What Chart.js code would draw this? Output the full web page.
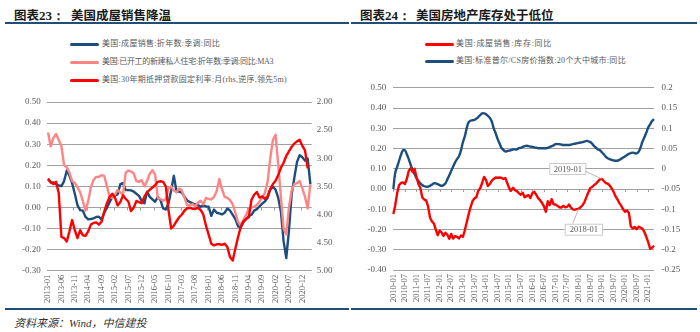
<!DOCTYPE html>
<html>
<head>
<meta charset="utf-8">
<script src="https://cdn.jsdelivr.net/npm/chart.js@4/dist/chart.umd.min.js"></script>
<style>
  html, body { margin: 0; padding: 0; background: #fff; }
  body { width: 700px; height: 332px; position: relative; overflow: hidden;
         font-family: "Liberation Serif", "Noto Sans CJK SC", serif; }
  .abs { position: absolute; white-space: pre; }
  .ttl { font-family: "Noto Sans CJK SC", sans-serif; font-weight: bold; font-size: 12.5px; color: #1a1a1a; top: 5px; }
  .ttlnum { font-family: "Liberation Serif", serif; font-weight: bold; font-size: 13px; }
  .rule { position: absolute; height: 2px; background: #1f4e79; }
  .leg { position: absolute; font-size: 8px; color: #595959; line-height: 10px;
         font-family: "Liberation Serif", "Noto Sans CJK SC", serif; }
  .sw { position: absolute; height: 3px; width: 29px; border-radius: 1.5px; }
  .box { position: absolute; }
  .src { position: absolute; left: 14px; top: 314px; font-size: 11px; font-style: italic; color: #333;
         font-family: "Liberation Serif", "Noto Sans CJK SC", serif; }
</style>
</head>
<body>

<div class="abs ttl" style="left:14px">图表<span class="ttlnum">23：</span></div>
<div class="abs ttl" style="left:71px">美国成屋销售降温</div>
<div class="abs ttl" style="left:360px">图表<span class="ttlnum">24：</span></div>
<div class="abs ttl" style="left:416px">美国房地产库存处于低位</div>
<div class="rule" style="left:5px; top:22px; width:344px"></div>
<div class="rule" style="left:351px; top:22px; width:346px"></div>
<div class="rule" style="left:5px; top:308px; width:344px; height:1.5px"></div>
<div class="rule" style="left:351px; top:308px; width:346px; height:1.5px"></div>
<div class="src">资料来源：Wind，中信建投</div>

<div id="legL"></div>
<div id="legR"></div>

<div class="box" style="left:0px; top:90px; width:350px; height:220px"><canvas id="c1"></canvas></div>
<div class="box" style="left:350px; top:75px; width:350px; height:235px"><canvas id="c2"></canvas></div>

<script>
// ---------- 图表23 data: monthly, 2013-01 .. 2021-03 ----------
const salesYoY = [
  0.133, 0.120, 0.118, 0.110, 0.104, 0.101, 0.125, 0.175, 0.150, 0.115,
  0.065, 0.010, -0.013, -0.015, -0.045, -0.056, -0.055, -0.052, -0.045, -0.044,
  -0.058, -0.025, -0.002, 0.025, 0.050, 0.055, 0.063, 0.110, 0.115, 0.083,
  0.082, 0.081, 0.075, 0.065, 0.055, 0.030, 0.020, 0.075, 0.050, 0.038,
  0.027, 0.050, 0.035, -0.005, -0.010, 0.020, 0.080, 0.150, 0.075, 0.075,
  0.070, 0.050, 0.033, 0.025, 0.019, 0.015, 0.011, 0.003, 0.010, 0.005,
  0.003, -0.040, -0.010, -0.025, -0.028, -0.033, -0.025, -0.005, -0.015, -0.035,
  -0.055, -0.090, -0.095, -0.070, -0.055, -0.042, -0.035, -0.015, -0.008, 0.005,
  0.018, 0.028, 0.045, 0.085, 0.097, 0.085, 0.045, -0.020, -0.160, -0.240,
  -0.110, 0.060, 0.140, 0.215, 0.248, 0.238, 0.222, 0.232, 0.110
];
const startsYoYMA3 = [
  0.355, 0.290, 0.330, 0.348, 0.320, 0.290, 0.200, 0.190, 0.165, 0.125,
  0.116, 0.095, 0.072, 0.030, -0.015, 0.030, 0.095, 0.130, 0.145, 0.145,
  0.153, 0.150, 0.100, 0.050, 0.045, 0.060, 0.083, 0.070, 0.060, 0.165,
  0.175, 0.170, 0.162, 0.125, 0.122, 0.130, 0.100, 0.125, 0.160, 0.177,
  0.155, 0.045, 0.040, 0.032, 0.040, 0.090, 0.100, 0.080, 0.072, 0.090,
  0.080, 0.045, 0.010, 0.012, 0.015, 0.005, 0.022, 0.032, 0.015, 0.045,
  0.040, 0.038, 0.050, 0.078, 0.135, 0.085, 0.050, 0.045, 0.035, 0.015,
  -0.025, -0.070, -0.082, -0.060, -0.035, -0.008, 0.000, 0.003, 0.012, 0.028,
  0.048, 0.068, 0.120, 0.230, 0.320, 0.345, 0.200, 0.050, -0.100, -0.128,
  0.000, 0.080, 0.110, 0.115, 0.125, 0.090, 0.050, -0.005, 0.110
];
// 30-year fixed mortgage rate, shifted 5 months ahead (right axis, reversed)
const mortgageRate = [
  3.36, 3.43, 3.46, 3.42, 3.62, 4.40, 4.42, 4.48, 4.30, 4.10,
  4.28, 4.42, 4.28, 4.37, 4.38, 4.30, 4.18, 4.15, 4.14, 4.18,
  4.13, 3.95, 3.80, 3.69, 3.63, 3.70, 3.84, 3.78, 3.66, 3.72,
  3.77, 3.94, 3.88, 3.76, 3.78, 3.80, 3.68, 3.61, 3.56, 3.52,
  3.48, 3.42, 3.41, 3.42, 3.50, 3.92, 4.25, 4.20, 4.12, 4.05,
  4.00, 3.93, 3.89, 3.88, 3.90, 3.90, 3.88, 3.92, 4.00, 4.20,
  4.36, 4.52, 4.55, 4.53, 4.53, 4.54, 4.52, 4.58, 4.76, 4.82,
  4.60, 4.40, 4.22, 4.12, 4.08, 4.05, 3.74, 3.65, 3.60, 3.70,
  3.68, 3.72, 3.68, 3.55, 3.46, 3.40, 3.30, 3.17, 3.08, 2.96,
  2.88, 2.80, 2.74, 2.70, 2.67, 2.78, 2.86, 3.18
];

// ---------- 图表24 data: monthly, 2010-01 .. 2021-04 ----------
const inventoryYoY = [
  -0.123, -0.080, -0.020, 0.020, 0.030, 0.033, 0.025, 0.050, 0.090, 0.103,
  0.085, 0.100, 0.060, 0.025, 0.005, -0.040, -0.052, -0.056, -0.085, -0.140,
  -0.160, -0.170, -0.200, -0.228, -0.206, -0.214, -0.232, -0.216, -0.226, -0.246,
  -0.222, -0.245, -0.232, -0.236, -0.244, -0.230, -0.236, -0.205, -0.165, -0.125,
  -0.090, -0.060, -0.046, -0.040, -0.008, 0.004, 0.030, 0.060, 0.045, 0.015,
  0.025, 0.042, 0.050, 0.057, 0.056, 0.057, 0.056, 0.050, 0.055, 0.030,
  0.005, -0.008, 0.006, -0.005, -0.010, -0.020, -0.028, -0.018, -0.040, -0.035,
  -0.030, -0.044, -0.020, -0.013, -0.028, -0.045, -0.055, -0.068, -0.085, -0.112,
  -0.060, -0.080, -0.050, -0.075, -0.076, -0.083, -0.090, -0.092, -0.083, -0.090,
  -0.088, -0.076, -0.092, -0.100, -0.102, -0.099, -0.097, -0.090, -0.080, -0.064,
  -0.040, -0.016, 0.005, 0.010, 0.020, 0.027, 0.038, 0.048, 0.050, 0.040,
  0.030, 0.027, 0.018, 0.005, -0.012, -0.035, -0.050, -0.068, -0.082, -0.100,
  -0.112, -0.106, -0.118, -0.185, -0.195, -0.187, -0.198, -0.186, -0.190, -0.196,
  -0.212, -0.236, -0.262, -0.295, -0.290, -0.280
];
const caseShiller20YoY = [
  -0.050, -0.010, 0.005, 0.020, 0.035, 0.046, 0.046, 0.036, 0.024, 0.010,
  -0.003, -0.013, -0.023, -0.030, -0.036, -0.040, -0.043, -0.044, -0.044, -0.042,
  -0.039, -0.036, -0.036, -0.038, -0.040, -0.042, -0.040, -0.036, -0.026, -0.016,
  -0.005, 0.006, 0.016, 0.024, 0.031, 0.045, 0.065, 0.080, 0.100, 0.115,
  0.119, 0.120, 0.121, 0.124, 0.128, 0.133, 0.137, 0.137, 0.135, 0.131,
  0.126, 0.117, 0.100, 0.088, 0.074, 0.063, 0.052, 0.047, 0.043, 0.044,
  0.045, 0.046, 0.048, 0.048, 0.048, 0.051, 0.052, 0.054, 0.056, 0.057,
  0.056, 0.055, 0.054, 0.053, 0.052, 0.051, 0.051, 0.051, 0.051, 0.051,
  0.052, 0.054, 0.056, 0.058, 0.061, 0.061, 0.061, 0.060, 0.059, 0.059,
  0.059, 0.059, 0.060, 0.061, 0.062, 0.063, 0.064, 0.065, 0.066, 0.067,
  0.069, 0.068, 0.066, 0.062, 0.056, 0.052, 0.048, 0.046, 0.041, 0.036,
  0.030, 0.026, 0.024, 0.022, 0.021, 0.020, 0.020, 0.022, 0.025, 0.028,
  0.031, 0.034, 0.037, 0.039, 0.040, 0.039, 0.038, 0.042, 0.052, 0.067,
  0.078, 0.089, 0.102, 0.110, 0.118, 0.123
];

// month category labels
function monthLabels(year, month, count) {
  const out = [];
  for (let i = 0; i < count; i++) {
    const m = (month - 1 + i) % 12 + 1;
    const y = year + Math.floor((month - 1 + i) / 12);
    out.push(y + '-' + String(m).padStart(2, '0'));
  }
  return out;
}
const monthsL = monthLabels(2013, 1, 99);
const monthsR = monthLabels(2010, 1, 136);
const labelStepL = 5;
const labelStepR = 6;
const annotatedMonths = ['2019-01', '2018-01'];

const BLUE = '#1b4e7e';
const PINK = '#ff8585';
const RED = '#ff0000';
const GRID = '#a0a0a0';
const TXT = '#595959';
const FONT = { family: '"Liberation Serif", "Times New Roman", serif', size: 9 };
const XFONT = { family: '"Liberation Serif", "Times New Roman", serif', size: 8.5 };

// small tick marks along the zero line
const zeroTicks = {
  id: 'zeroTicks',
  beforeDatasetsDraw(chart, args, opts) {
    if (!opts || !opts.every) return;
    const xs = chart.scales.x, ys = chart.scales[opts.axis || 'y'];
    const y0 = ys.getPixelForValue(0);
    const n = chart.data.labels.length;
    const ctx = chart.ctx;
    ctx.save();
    ctx.strokeStyle = GRID;
    ctx.lineWidth = 1;
    ctx.beginPath();
    for (let i = 0; i < n; i += opts.every) {
      let x = xs.getPixelForValue(i);
      if (opts.between) x -= (xs.getPixelForValue(1) - xs.getPixelForValue(0)) / 2;
      x = Math.round(x) + 0.5;
      ctx.moveTo(x, y0);
      ctx.lineTo(x, y0 + 3);
    }
    ctx.stroke();
    ctx.restore();
  }
};

// callout boxes pointing at chosen points of a dataset
const callouts = {
  id: 'callouts',
  afterDatasetsDraw(chart, args, opts) {
    if (!opts || !opts.items) return;
    const ctx = chart.ctx;
    const meta = chart.getDatasetMeta(opts.dataset);
    ctx.save();
    ctx.font = '8.5px "Liberation Serif", serif';
    opts.items.forEach(it => {
      const idx = chart.data.labels.indexOf(it.month);
      const pt = meta.data[idx];
      if (!pt) return;
      const px = pt.x, py = pt.y;
      const bx = px + it.dx, by = py + it.dy, bw = it.w, bh = 11;
      ctx.strokeStyle = '#a6a6a6';
      ctx.lineWidth = 0.8;
      ctx.beginPath();
      ctx.moveTo(px + it.ax, py + it.ay);
      ctx.lineTo(px, py);
      ctx.stroke();
      ctx.fillStyle = '#fff';
      ctx.fillRect(bx, by, bw, bh);
      ctx.strokeStyle = '#bfbfbf';
      ctx.strokeRect(bx + 0.5, by + 0.5, bw, bh);
      ctx.fillStyle = TXT;
      ctx.textAlign = 'center';
      ctx.textBaseline = 'middle';
      ctx.fillText(it.month, bx + bw / 2 + 0.5, by + bh / 2 + 1);
    });
    ctx.restore();
  }
};

function fixedWidth(w) { return scale => { scale.width = w; }; }
function fixedHeight(h) { return scale => { scale.height = h; }; }

// ---------- chart 23 ----------
const chartL = new Chart(document.getElementById('c1'), {
  type: 'line',
  data: {
    labels: monthsL,
    datasets: [
      { label: '美国:成屋销售:折年数:季调:同比', data: salesYoY, borderColor: BLUE, yAxisID: 'y' },
      { label: '美国:已开工的新建私人住宅:折年数:季调:同比:MA3', data: startsYoYMA3, borderColor: PINK, yAxisID: 'y' },
      { label: '美国:30年期抵押贷款固定利率:月(rhs,逆序,领先5m)', data: mortgageRate, borderColor: RED, yAxisID: 'y2' }
    ].reverse()
  },
  options: {
    responsive: true, maintainAspectRatio: false, animation: false,
    layout: { padding: { top: 12, left: 0, right: 0, bottom: 0 } },
    elements: { point: { radius: 0 }, line: { borderWidth: 2.4, tension: 0, borderJoinStyle: 'round' } },
    plugins: { legend: { display: false }, tooltip: { enabled: false },
               zeroTicks: { every: labelStepL, between: true } },
    scales: {
      x: {
        offset: true,
        grid: { display: false, drawTicks: false }, border: { display: false },
        afterFit: fixedHeight(39.3),
        ticks: { autoSkip: false, minRotation: 90, maxRotation: 90, padding: 4, color: TXT, font: XFONT,
                 callback: (v, i) => i % labelStepL === 0 ? monthsL[i] : '' }
      },
      y: {
        position: 'left', min: -0.3, max: 0.5,
        afterFit: fixedWidth(46.7),
        grid: { color: GRID, lineWidth: 1, drawTicks: false }, border: { display: false },
        ticks: { stepSize: 0.1, padding: 6, color: TXT, font: FONT, callback: v => v.toFixed(2) }
      },
      y2: {
        position: 'right', min: 2, max: 5, reverse: true,
        afterFit: fixedWidth(38.3),
        grid: { drawOnChartArea: false, drawTicks: false }, border: { display: false },
        ticks: { stepSize: 0.5, padding: 5, color: TXT, font: FONT, callback: v => v.toFixed(2) }
      }
    }
  },
  plugins: [zeroTicks]
});

// ---------- chart 24 ----------
const chartR = new Chart(document.getElementById('c2'), {
  type: 'line',
  data: {
    labels: monthsR,
    datasets: [
      { label: '美国:成屋销售:库存:同比', data: inventoryYoY, borderColor: RED, yAxisID: 'y', tension: 0 },
      { label: '美国:标准普尔/CS房价指数:20个大中城市:同比', data: caseShiller20YoY, borderColor: BLUE, yAxisID: 'y2', tension: 0.4 }
    ]
  },
  options: {
    responsive: true, maintainAspectRatio: false, animation: false,
    layout: { padding: { top: 12.3, left: 0, right: 0, bottom: 0 } },
    elements: { point: { radius: 0 }, line: { borderWidth: 2.4, borderJoinStyle: 'round' } },
    plugins: {
      legend: { display: false }, tooltip: { enabled: false },
      zeroTicks: { every: labelStepR },
      callouts: {
        dataset: 0,
        items: [
          { month: annotatedMonths[0], dx: -52.5, dy: -16, w: 36, ax: -17, ay: -8 },
          { month: annotatedMonths[1], dx: -14, dy: 15, w: 37.5, ax: -6, ay: 15 }
        ]
      }
    },
    scales: {
      x: {
        offset: false,
        grid: { display: false, drawTicks: false }, border: { display: false },
        afterFit: fixedHeight(40),
        ticks: { autoSkip: false, minRotation: 90, maxRotation: 90, padding: 4, color: TXT, font: XFONT,
                 callback: (v, i) => i % labelStepR === 0 ? monthsR[i] : '' }
      },
      y: {
        position: 'left', min: -0.4, max: 0.5,
        afterFit: fixedWidth(43.3),
        grid: { color: GRID, lineWidth: 1, drawTicks: false }, border: { display: false },
        ticks: { stepSize: 0.1, padding: 7, color: TXT, font: FONT, callback: v => v.toFixed(2) }
      },
      y2: {
        position: 'right', min: -0.25, max: 0.2,
        afterFit: fixedWidth(46),
        grid: { drawOnChartArea: false, drawTicks: false }, border: { display: false },
        ticks: { stepSize: 0.05, padding: 7.5, color: TXT, font: FONT,
                 callback: v => String(Math.round(v * 100) / 100) }
      }
    }
  },
  plugins: [zeroTicks, callouts]
});

// ---------- HTML legends built from the datasets ----------
// each entry is spread with letter-spacing to its set text width
function buildLegend(host, chart, order, swLeft, textLeft, rowTops, widths) {
  order.forEach((dsIndex, row) => {
    const ds = chart.data.datasets[dsIndex];
    const sw = document.createElement('div');
    sw.className = 'sw';
    sw.style.left = swLeft + 'px';
    sw.style.top = (rowTops[row] - 1.5) + 'px';
    sw.style.background = ds.borderColor;
    host.appendChild(sw);
    const t = document.createElement('div');
    t.className = 'leg abs';
    t.style.left = textLeft + 'px';
    t.style.top = (rowTops[row] - 5.5) + 'px';
    t.textContent = ds.label;
    host.appendChild(t);
    const w = t.getBoundingClientRect().width;
    const n = [...ds.label].length;
    t.style.letterSpacing = ((widths[row] - w) / n).toFixed(2) + 'px';
  });
}
// chart 23 datasets were reversed so red draws beneath; legend shows blue, pink, red
buildLegend(document.getElementById('legL'), chartL, [2, 1, 0], 70, 102, [44.3, 62, 80], [118, 171, 185]);
buildLegend(document.getElementById('legR'), chartR, [0, 1], 425, 456, [44.3, 61.7], [96, 170]);
</script>
</body>
</html>
